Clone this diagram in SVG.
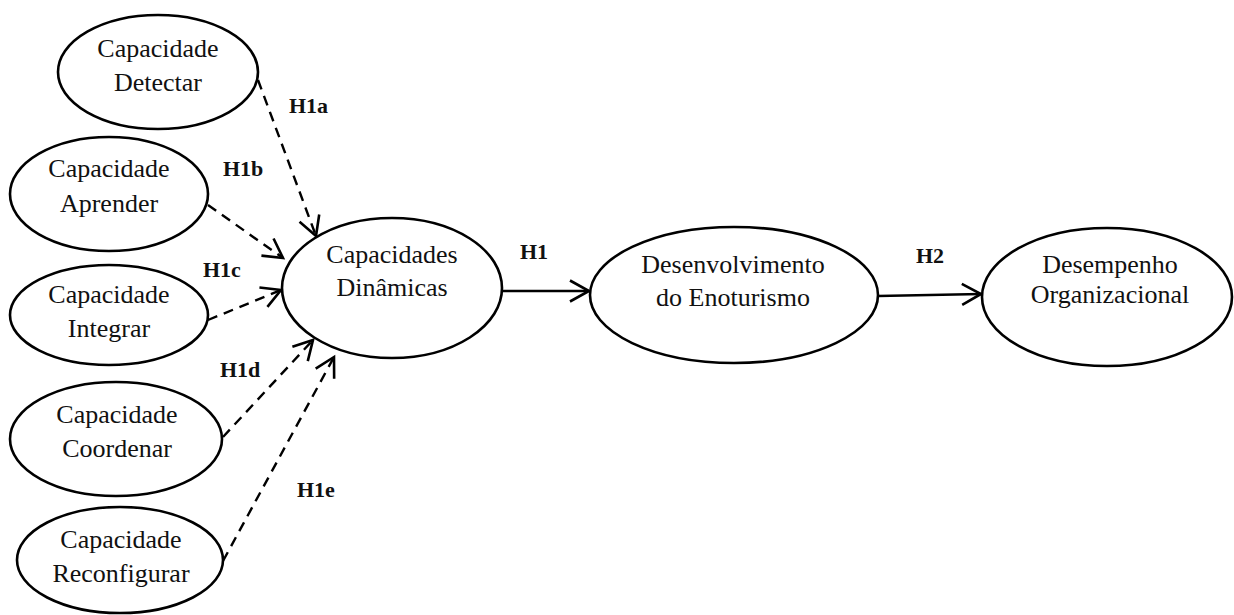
<svg xmlns="http://www.w3.org/2000/svg" width="1234" height="615" viewBox="0 0 1234 615">
<style>
.node ellipse{fill:#fff;stroke:#000;stroke-width:2.6}
.node text{font-family:"Liberation Serif","Times New Roman",serif;font-size:26px;fill:#111;text-anchor:middle}
.lbl{font-family:"Liberation Serif","Times New Roman",serif;font-size:22px;font-weight:bold;fill:#111}
.solid{stroke:#000;stroke-width:2.6;fill:none}
.dash{stroke:#000;stroke-width:2.4;fill:none;stroke-dasharray:10 7}
</style>
<defs>
<marker id="arr" viewBox="-22 -14 26 28" markerWidth="26" markerHeight="28" refX="0" refY="0" orient="auto" markerUnits="userSpaceOnUse" overflow="visible">
<path d="M-19,-10.5 L0,0 L-19,10.5" fill="none" stroke="#000" stroke-width="2.6" stroke-linejoin="miter"/>
</marker>
</defs>
<rect width="1234" height="615" fill="#fff"/>
<g id="connectors">
<line class="dash" x1="258" y1="80" x2="316" y2="236" marker-end="url(#arr)"/>
<line class="dash" x1="208" y1="205" x2="283" y2="258" marker-end="url(#arr)"/>
<line class="dash" x1="208" y1="320" x2="281" y2="290" marker-end="url(#arr)"/>
<line class="dash" x1="223" y1="437" x2="313" y2="340" marker-end="url(#arr)"/>
<line class="dash" x1="223" y1="561" x2="334" y2="357" marker-end="url(#arr)"/>
<line class="solid" x1="502" y1="291" x2="589" y2="291" marker-end="url(#arr)"/>
<line class="solid" x1="878" y1="296" x2="981" y2="294" marker-end="url(#arr)"/>
<text class="lbl" x="289" y="113">H1a</text>
<text class="lbl" x="223" y="176">H1b</text>
<text class="lbl" x="203" y="277">H1c</text>
<text class="lbl" x="220" y="377">H1d</text>
<text class="lbl" x="297" y="497">H1e</text>
<text class="lbl" x="520" y="259">H1</text>
<text class="lbl" x="916" y="263">H2</text>
</g>
<g id="n-detectar" class="node">
<ellipse cx="158" cy="72" rx="100" ry="57"/>
<text x="158" y="57">Capacidade</text>
<text x="158" y="91">Detectar</text>
</g>
<g id="n-aprender" class="node">
<ellipse cx="109" cy="194" rx="99" ry="57"/>
<text x="109" y="177">Capacidade</text>
<text x="109" y="212">Aprender</text>
</g>
<g id="n-integrar" class="node">
<ellipse cx="109" cy="315" rx="99" ry="50"/>
<text x="109" y="303">Capacidade</text>
<text x="109" y="337">Integrar</text>
</g>
<g id="n-coordenar" class="node">
<ellipse cx="116" cy="439" rx="106" ry="57"/>
<text x="117" y="423">Capacidade</text>
<text x="117" y="457">Coordenar</text>
</g>
<g id="n-reconfigurar" class="node">
<ellipse cx="120" cy="560" rx="103" ry="53"/>
<text x="121" y="548">Capacidade</text>
<text x="121" y="582">Reconfigurar</text>
</g>
<g id="n-dinamicas" class="node">
<ellipse cx="392" cy="288" rx="110" ry="70"/>
<text x="392" y="263">Capacidades</text>
<text x="392" y="296">Dinâmicas</text>
</g>
<g id="n-enoturismo" class="node">
<ellipse cx="734" cy="295" rx="144" ry="68"/>
<text x="733" y="273">Desenvolvimento</text>
<text x="733" y="306">do Enoturismo</text>
</g>
<g id="n-desempenho" class="node">
<ellipse cx="1107" cy="297" rx="125" ry="69"/>
<text x="1110" y="273">Desempenho</text>
<text x="1110" y="303">Organizacional</text>
</g>
</svg>
